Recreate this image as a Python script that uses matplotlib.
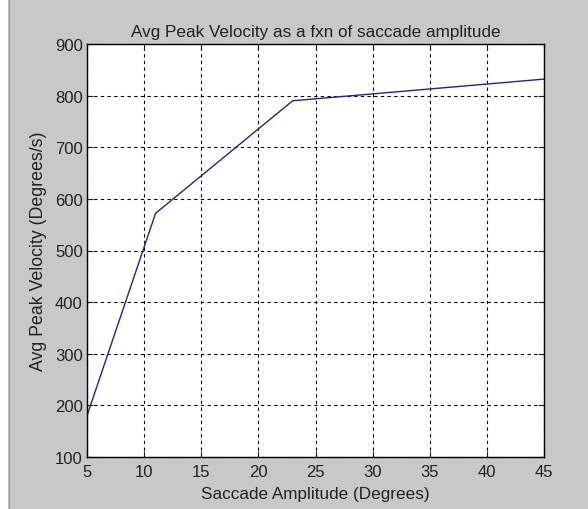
import matplotlib
matplotlib.use("Agg")
import matplotlib.pyplot as plt
from matplotlib.patches import Rectangle
from matplotlib.lines import Line2D

amplitude = [5, 11, 23, 45]
velocity = [180, 572, 790, 832]
xticks = [5, 10, 15, 20, 25, 30, 35, 40, 45]
yticks = [100, 200, 300, 400, 500, 600, 700, 800, 900]

plt.rcParams['font.family'] = ['Liberation Sans', 'DejaVu Sans']

fig = plt.figure(figsize=(5.88, 5.10), dpi=100)
fig.patch.set_facecolor('#c8c8c8')
fig.patches.append(Rectangle((0, 0), 8/588, 1, transform=fig.transFigure,
                             facecolor='white', edgecolor='none', zorder=0))
fig.lines.append(Line2D([9/588, 9/588], [0, 1], transform=fig.transFigure,
                        color='#9a9a9a', lw=0.8))

ax = fig.add_axes([87/588, 52/510, 457/588, 413/510])
ax.set_facecolor('white')
ax.plot(amplitude, velocity, color='#23238f', lw=1.0)
ax.set_xlim(5, 45)
ax.set_ylim(100, 900)
ax.set_xticks(xticks)
ax.set_yticks(yticks)
ax.grid(True, color='black', linestyle=(0, (3, 3)), linewidth=0.8)
ax.tick_params(direction='in', length=4, labelsize=12, colors='#222222',
               top=True, right=True, pad=3)
ax.tick_params(axis='x', pad=5)
for s in ax.spines.values():
    s.set_color('black')
    s.set_linewidth(1.0)
ax.set_title('Avg Peak Velocity as a fxn of saccade amplitude', fontsize=12.3,
             color='#222222', pad=6)
ax.set_xlabel('Saccade Amplitude (Degrees)', fontsize=12.3, color='#222222', labelpad=5)
ax.set_ylabel('Avg Peak Velocity (Degrees/s)', fontsize=12.8, color='#222222', labelpad=6)

fig.savefig('out.png', dpi=100, facecolor=fig.get_facecolor())
